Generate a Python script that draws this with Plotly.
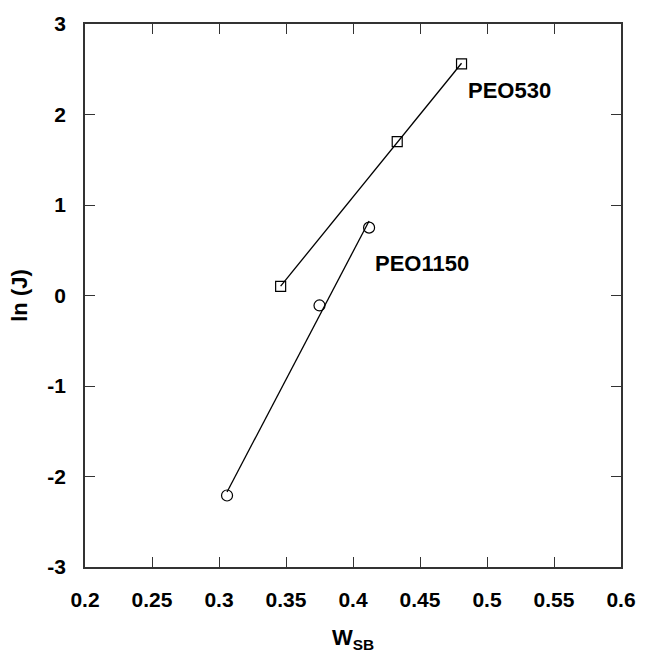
import numpy as np
import plotly.graph_objects as go

# Data
peo530_x = [0.346, 0.433, 0.481]
peo530_y = [0.10, 1.70, 2.56]
peo1150_x = [0.306, 0.375, 0.412]
peo1150_y = [-2.21, -0.11, 0.75]

x_ticks = [0.2, 0.25, 0.3, 0.35, 0.4, 0.45, 0.5, 0.55, 0.6]
x_tick_labels = ["0.2", "0.25", "0.3", "0.35", "0.4", "0.45", "0.5", "0.55", "0.6"]
y_ticks = [-3, -2, -1, 0, 1, 2, 3]
y_tick_labels = ["-3", "-2", "-1", "0", "1", "2", "3"]

labels = ["PEO530", "PEO1150"]
label_x = [0.517, 0.4515]
label_y = [2.26, 0.35]

FONT = "Liberation Sans, Arial, sans-serif"

fig = go.Figure()

def fit_line(xs, ys):
    k, b = np.polyfit(xs, ys, 1)
    xx = np.array([min(xs), max(xs)])
    return xx, k * xx + b

for xs, ys, sym, sz in [(peo530_x, peo530_y, "square-open", 10),
                        (peo1150_x, peo1150_y, "circle-open", 11)]:
    fx, fy = fit_line(xs, ys)
    fig.add_trace(go.Scatter(x=fx, y=fy, mode="lines",
                             line=dict(color="black", width=1.3),
                             showlegend=False, hoverinfo="skip"))
    fig.add_trace(go.Scatter(x=xs, y=ys, mode="markers",
                             marker=dict(symbol=sym, size=sz, color="black",
                                         line=dict(color="black", width=1.2)),
                             showlegend=False))

for t, lx, ly in zip(labels, label_x, label_y):
    fig.add_annotation(x=lx, y=ly, text="<b>%s</b>" % t, showarrow=False,
                       font=dict(family=FONT, size=22, color="black"))

axis_common = dict(
    showgrid=False, zeroline=False, showline=True, linecolor="#333",
    linewidth=1.5, mirror="ticks", ticks="inside", ticklen=10,
    tickwidth=1.2, tickcolor="#333",
    tickfont=dict(family=FONT, size=21, color="black", weight="bold"),
)

fig.update_xaxes(range=[0.2, 0.6], tickvals=x_ticks, ticktext=x_tick_labels,
                 ticklabelstandoff=13,
                 title=dict(text="<b>W<sub>SB</sub></b>", standoff=20,
                            font=dict(family=FONT, size=22, color="black")),
                 **axis_common)
fig.update_yaxes(range=[-3, 3], tickvals=y_ticks, ticktext=y_tick_labels,
                 ticklabelstandoff=13,
                 title=dict(text="<b>ln (J)</b>", standoff=14,
                            font=dict(family=FONT, size=22, color="black")),
                 **axis_common)

fig.update_layout(
    width=648, height=659,
    margin=dict(l=85, r=19, t=21, b=92),
    plot_bgcolor="white", paper_bgcolor="white",
)

fig.write_html("out.html")
